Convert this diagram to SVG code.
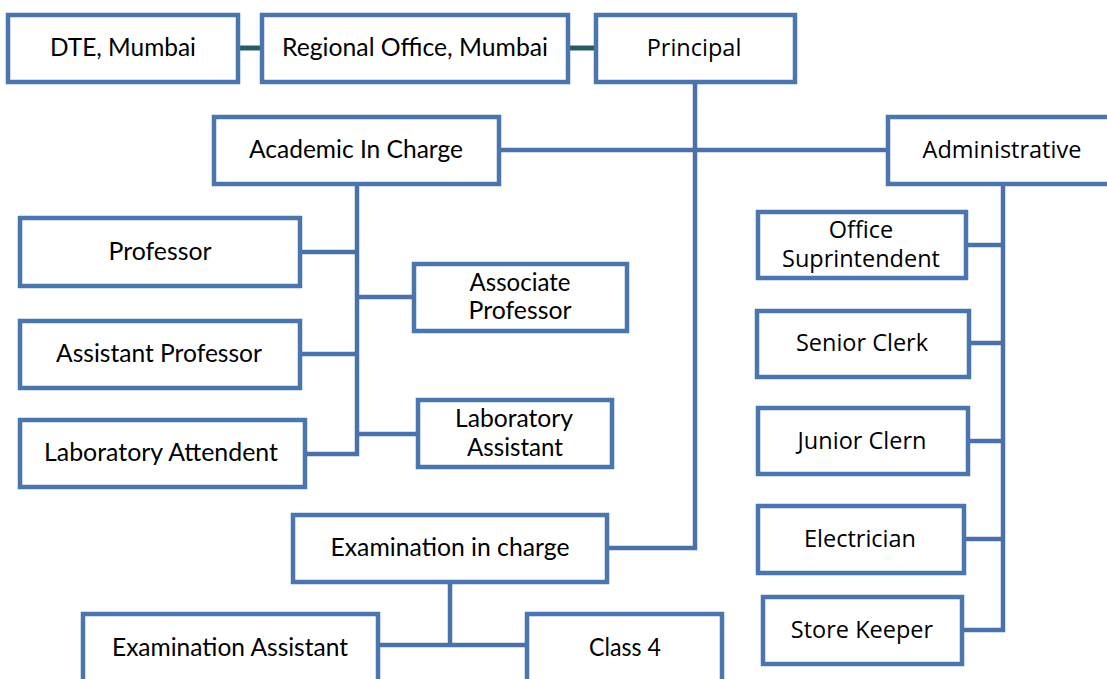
<svg xmlns="http://www.w3.org/2000/svg" width="1107" height="679" viewBox="0 0 1107 679">
<style>
.box{fill:#fff;stroke:#4a76ad;stroke-width:4.5}
.ln{fill:none;stroke:#4a72a8;stroke-width:4.5}
.tl{fill:none;stroke:#265b66;stroke-width:5}
.t{font-family:Lato,"Liberation Sans",sans-serif;font-size:25px;fill:#000;text-anchor:middle}
.r{font-family:"Open Sans","Liberation Sans",sans-serif;font-size:23.5px;fill:#000;text-anchor:middle}
</style>
<rect width="1107" height="679" fill="#fff"/>
<g id="connectors">
<line class="tl" x1="238" y1="48" x2="262" y2="48"/>
<line class="tl" x1="568" y1="48" x2="596" y2="48"/>
<polyline class="ln" points="695,82 695,548 607,548"/>
<line class="ln" x1="499" y1="150" x2="888" y2="150"/>
<polyline class="ln" points="357,185 357,454 305,454"/>
<line class="ln" x1="300" y1="252" x2="357" y2="252"/>
<line class="ln" x1="300" y1="354" x2="357" y2="354"/>
<line class="ln" x1="357" y1="297" x2="414" y2="297"/>
<line class="ln" x1="357" y1="434" x2="418" y2="434"/>
<line class="ln" x1="450" y1="583" x2="450" y2="645"/>
<line class="ln" x1="378" y1="645" x2="527" y2="645"/>
<polyline class="ln" points="1003,185 1003,630 962,630"/>
<line class="ln" x1="966" y1="245" x2="1003" y2="245"/>
<line class="ln" x1="969" y1="343" x2="1003" y2="343"/>
<line class="ln" x1="968" y1="441" x2="1003" y2="441"/>
<line class="ln" x1="964" y1="539" x2="1003" y2="539"/>
</g>
<g id="dte"><rect class="box" x="8" y="15" width="230" height="67"/><text class="t" x="123" y="56" textLength="146" lengthAdjust="spacingAndGlyphs">DTE, Mumbai</text></g>
<g id="regional"><rect class="box" x="262" y="15" width="306" height="67"/><text class="t" x="415" y="56" textLength="266" lengthAdjust="spacingAndGlyphs">Regional Office, Mumbai</text></g>
<g id="principal"><rect class="box" x="596" y="15" width="199" height="67"/><text class="r" x="694" y="56">Principal</text></g>
<g id="academic"><rect class="box" x="214" y="117" width="285" height="67"/><text class="t" x="356" y="158" textLength="214" lengthAdjust="spacingAndGlyphs">Academic In Charge</text></g>
<g id="administrative"><rect class="box" x="888" y="117" width="225" height="67"/><text class="r" x="1002" y="158">Administrative</text></g>
<g id="professor"><rect class="box" x="20" y="218" width="280" height="68"/><text class="t" x="160" y="260" textLength="103" lengthAdjust="spacingAndGlyphs">Professor</text></g>
<g id="associate"><rect class="box" x="414" y="264" width="213" height="67"/><text class="t" x="520" y="291" textLength="101" lengthAdjust="spacingAndGlyphs">Associate</text><text class="t" x="520" y="319" textLength="103" lengthAdjust="spacingAndGlyphs">Professor</text></g>
<g id="assistant"><rect class="box" x="20" y="321" width="280" height="67"/><text class="t" x="159" y="362" textLength="206" lengthAdjust="spacingAndGlyphs">Assistant Professor</text></g>
<g id="labattendent"><rect class="box" x="20" y="420" width="285" height="67"/><text class="t" x="161" y="461" textLength="234" lengthAdjust="spacingAndGlyphs">Laboratory Attendent</text></g>
<g id="labassistant"><rect class="box" x="418" y="400" width="194" height="67"/><text class="t" x="514" y="427" textLength="118" lengthAdjust="spacingAndGlyphs">Laboratory</text><text class="t" x="515" y="456" textLength="96" lengthAdjust="spacingAndGlyphs">Assistant</text></g>
<g id="examination"><rect class="box" x="293" y="515" width="314" height="67"/><text class="t" x="450" y="556" textLength="239" lengthAdjust="spacingAndGlyphs">Examination in charge</text></g>
<g id="examassistant"><rect class="box" x="83" y="614" width="295" height="80"/><text class="t" x="230" y="656" textLength="236" lengthAdjust="spacingAndGlyphs">Examination Assistant</text></g>
<g id="class4"><rect class="box" x="527" y="614" width="195" height="80"/><text class="t" x="625" y="656" textLength="72" lengthAdjust="spacingAndGlyphs">Class 4</text></g>
<g id="office"><rect class="box" x="758" y="212" width="208" height="66"/><text class="r" x="861" y="238">Office</text><text class="r" x="861" y="267">Suprintendent</text></g>
<g id="senior"><rect class="box" x="757" y="311" width="212" height="66"/><text class="r" x="862" y="351">Senior Clerk</text></g>
<g id="junior"><rect class="box" x="758" y="408" width="210" height="66"/><text class="r" x="862" y="449">Junior Clern</text></g>
<g id="electrician"><rect class="box" x="758" y="506" width="206" height="67"/><text class="r" x="860" y="547">Electrician</text></g>
<g id="storekeeper"><rect class="box" x="763" y="597" width="199" height="67"/><text class="r" x="862" y="638">Store Keeper</text></g>
</svg>
